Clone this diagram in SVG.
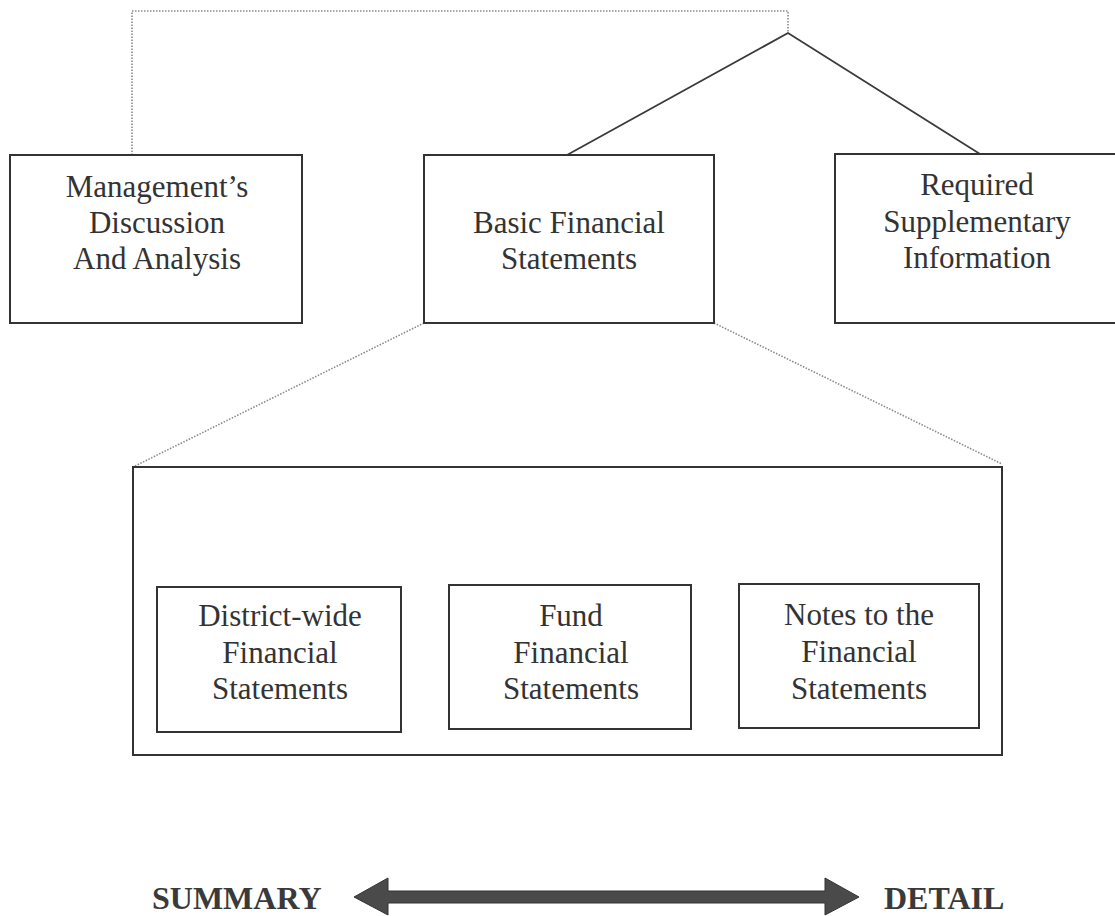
<svg xmlns="http://www.w3.org/2000/svg" width="1115" height="916" viewBox="0 0 1115 916">
<style>
.box{fill:#fff;stroke:#333;stroke-width:2}
.solid{fill:none;stroke:#3a3a3a;stroke-width:1.8}
.dot{fill:none;stroke:#8a8a8a;stroke-width:1.6;stroke-dasharray:1.5 1.5}
.t{font-family:"Liberation Serif","Times New Roman",serif;font-size:31px;fill:#333;text-anchor:middle}
.b{font-family:"Liberation Serif","Times New Roman",serif;font-size:32px;font-weight:bold;fill:#3a3a3a}
</style>
<rect width="1115" height="916" fill="#fff"/>
<g id="connectors">
  <polyline class="dot" points="132,155 132,11 788,11 788,33"/>
  <polyline class="solid" points="567,155 788,33 980,154"/>
  <line class="dot" x1="424" y1="323" x2="133" y2="467"/>
  <line class="dot" x1="714" y1="323" x2="1002" y2="464"/>
  <polyline class="solid" points="160,587 424,538 688,585"/>
  <polyline class="dot" points="424,538 424,512 859,512 859,584"/>
</g>
<g id="mdna">
  <rect class="box" x="10" y="155" width="292" height="168"/>
  <text class="t" x="157" y="197">Management’s</text>
  <text class="t" x="157" y="233">Discussion</text>
  <text class="t" x="157" y="269">And Analysis</text>
</g>
<g id="basic">
  <rect class="box" x="424" y="155" width="290" height="168"/>
  <text class="t" x="569" y="233">Basic Financial</text>
  <text class="t" x="569" y="269">Statements</text>
</g>
<g id="rsi">
  <rect class="box" x="835" y="154" width="290" height="169"/>
  <text class="t" x="977" y="195">Required</text>
  <text class="t" x="977" y="232">Supplementary</text>
  <text class="t" x="977" y="268">Information</text>
</g>
<g id="container">
  <rect class="box" x="133" y="467" width="869" height="288" fill="none"/>
</g>
<g id="district">
  <rect class="box" x="157" y="587" width="244" height="145"/>
  <text class="t" x="280" y="626">District-wide</text>
  <text class="t" x="280" y="663">Financial</text>
  <text class="t" x="280" y="699">Statements</text>
</g>
<g id="fund">
  <rect class="box" x="449" y="585" width="242" height="144"/>
  <text class="t" x="571" y="626">Fund</text>
  <text class="t" x="571" y="663">Financial</text>
  <text class="t" x="571" y="699">Statements</text>
</g>
<g id="notes">
  <rect class="box" x="739" y="584" width="240" height="144"/>
  <text class="t" x="859" y="625">Notes to the</text>
  <text class="t" x="859" y="662">Financial</text>
  <text class="t" x="859" y="699">Statements</text>
</g>
<g id="scale">
  <text class="b" x="152" y="909">SUMMARY</text>
  <polygon points="354,897 388,878 388,891 825,891 825,878 859,897 825,915 825,903 388,903 388,915" fill="#4a4a4a" stroke="#333" stroke-width="1"/>
  <text class="b" x="884" y="909">DETAIL</text>
</g>
</svg>
